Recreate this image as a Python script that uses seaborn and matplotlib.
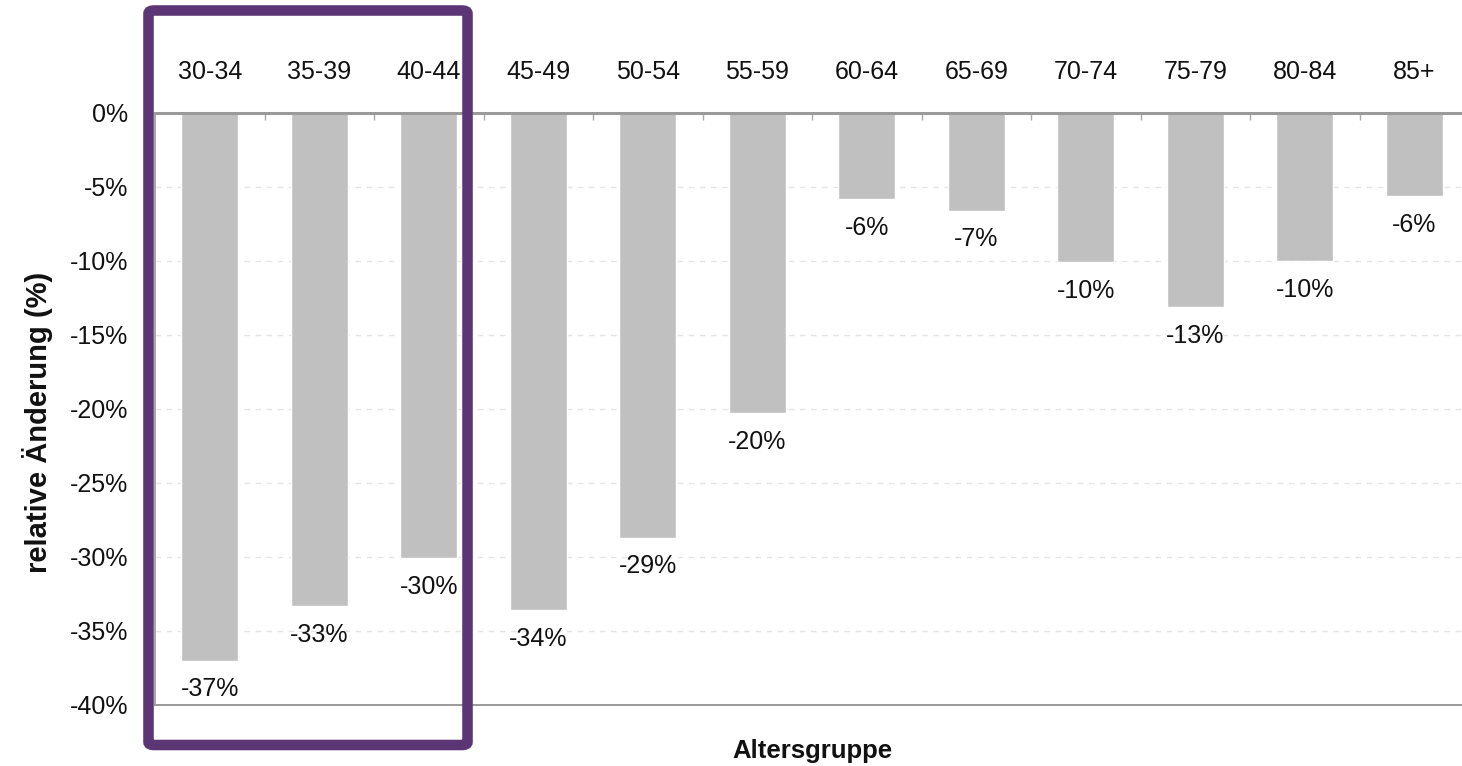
import matplotlib
matplotlib.use("Agg")
import matplotlib.pyplot as plt
from matplotlib.patches import FancyBboxPatch
import seaborn as sns

# Age groups and relative change of each group (percent)
altersgruppen = ["30-34", "35-39", "40-44", "45-49", "50-54", "55-59",
                 "60-64", "65-69", "70-74", "75-79", "80-84", "85+"]
aenderung = [-37.0, -33.3, -30.1, -33.6, -28.7, -20.3,
             -5.8, -6.6, -10.1, -13.1, -10.0, -5.6]
y_ticks = [0, -5, -10, -15, -20, -25, -30, -35, -40]

sns.set_theme(style="white")
plt.rcParams["font.family"] = ["Liberation Sans", "DejaVu Sans"]

W, H = 1462, 766
fig = plt.figure(figsize=(W / 100, H / 100), dpi=100)
left, right, top, bottom = 155, 1469, 113, 705
ax = fig.add_axes([left / W, 1 - bottom / H, (right - left) / W, (bottom - top) / H])

sns.barplot(x=altersgruppen, y=aenderung, color="#c0c0c0", saturation=1,
            width=0.52, ax=ax, zorder=2)

ax.set_ylim(-40, 0)
ax.set_xlim(-0.5, len(altersgruppen) - 0.5)

# dashed horizontal grid
ax.set_yticks(y_ticks)
ax.set_yticklabels([f"{t}%" for t in y_ticks])
ax.yaxis.grid(True, color="#e4e4e4", linestyle=(0, (4, 4)), linewidth=1.0, zorder=0)
ax.xaxis.grid(False)

# category labels on top, small separators hanging from the zero line
ax.xaxis.tick_top()
ax.set_xticks(range(len(altersgruppen)))
ax.set_xticklabels(altersgruppen)
ax.set_xticks([i + 0.5 for i in range(len(altersgruppen) - 1)], minor=True)
ax.tick_params(axis="x", which="major", length=0, pad=21, labelsize=18, colors="#111111")
ax.tick_params(axis="x", which="minor", top=True, bottom=False, direction="in",
               length=5, width=1, color="#aaaaaa")
ax.tick_params(axis="y", length=0, pad=19, labelsize=18, colors="#111111")

for side in ["top", "bottom", "left"]:
    ax.spines[side].set_visible(True)
    ax.spines[side].set_color("#9a9a9a")
ax.spines["top"].set_linewidth(2.2)
ax.spines["bottom"].set_linewidth(1.4)
ax.spines["left"].set_linewidth(1.2)
ax.spines["right"].set_visible(False)

for cont in ax.containers:
    ax.bar_label(cont, labels=[f"{v:.0f}%" for v in aenderung], padding=12,
                 fontsize=18, color="#111111")

ax.set_ylabel("relative Änderung (%)", fontsize=21, fontweight="bold", color="#111111")
ax.yaxis.set_label_coords((53 - left) / (right - left), (bottom - 422) / (bottom - top))
ax.set_xlabel("Altersgruppe", fontsize=18.5, fontweight="bold", color="#111111")
ax.xaxis.set_label_position("bottom")
ax.xaxis.set_label_coords((812 - left) / (right - left), -(739 - bottom) / (bottom - top))

# highlight frame around the three youngest groups
frame = FancyBboxPatch((148.5 / W, 1 - 745 / H), (467.5 - 148.5) / W, (745 - 10.5) / H,
                       boxstyle="round,pad=0,rounding_size=0.004",
                       transform=fig.transFigure, fill=False,
                       edgecolor="#5c3674", linewidth=7.6, zorder=10)
fig.patches.append(frame)

fig.savefig("out.png", dpi=100)
